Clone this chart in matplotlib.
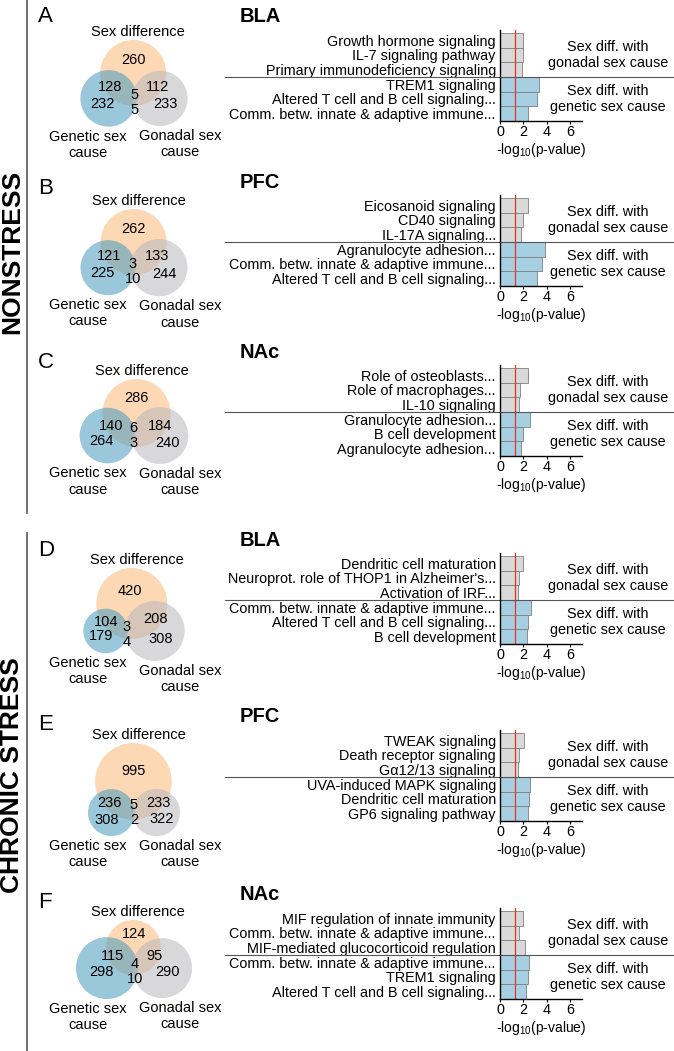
import numpy as np
import matplotlib
matplotlib.use('Agg')
import matplotlib.pyplot as plt
from matplotlib.patches import Circle
from matplotlib import transforms

plt.rcParams['font.family'] = ['Liberation Sans', 'DejaVu Sans']
plt.rcParams['mathtext.fontset'] = 'custom'
plt.rcParams['mathtext.rm'] = 'Liberation Sans'
plt.rcParams['mathtext.it'] = 'Liberation Sans:italic'

W, H = 674, 1051

# ---- data ----
panel_letters = ['A', 'B', 'C', 'D', 'E', 'F']
brain_regions = ['BLA', 'PFC', 'NAc', 'BLA', 'PFC', 'NAc']

# venn counts: sex-diff only, genetic only, gonadal only, sex&gen, sex&gon, gen&gon, all three
venn_sex_only = [260, 262, 286, 420, 995, 124]
venn_gen_only = [232, 225, 264, 179, 308, 298]
venn_gon_only = [233, 244, 240, 308, 322, 290]
venn_sex_gen = [128, 121, 140, 104, 236, 115]
venn_sex_gon = [112, 133, 184, 208, 233, 95]
venn_gen_gon = [5, 10, 3, 4, 2, 10]
venn_all = [5, 3, 6, 3, 5, 4]

gon_terms = [
    ['Growth hormone signaling', 'IL-7 signaling pathway', 'Primary immunodeficiency signaling'],
    ['Eicosanoid signaling', 'CD40 signaling', 'IL-17A signaling...'],
    ['Role of osteoblasts...', 'Role of macrophages...', 'IL-10 signaling'],
    ['Dendritic cell maturation', "Neuroprot. role of THOP1 in Alzheimer's...", 'Activation of IRF...'],
    ['TWEAK signaling', 'Death receptor signaling', 'G\u03b112/13 signaling'],
    ['MIF regulation of innate immunity', 'Comm. betw. innate & adaptive immune...',
     'MIF-mediated glucocorticoid regulation'],
]
gon_vals = [
    [2.0, 1.95, 1.9],
    [2.35, 2.0, 1.8],
    [2.35, 1.7, 1.65],
    [2.0, 1.65, 1.55],
    [2.05, 1.65, 1.57],
    [1.95, 1.65, 2.15],
]
gen_terms = [
    ['TREM1 signaling', 'Altered T cell and B cell signaling...', 'Comm. betw. innate & adaptive immune...'],
    ['Agranulocyte adhesion...', 'Comm. betw. innate & adaptive immune...', 'Altered T cell and B cell signaling...'],
    ['Granulocyte adhesion...', 'B cell development', 'Agranulocyte adhesion...'],
    ['Comm. betw. innate & adaptive immune...', 'Altered T cell and B cell signaling...', 'B cell development'],
    ['UVA-induced MAPK signaling', 'Dendritic cell maturation', 'GP6 signaling pathway'],
    ['Comm. betw. innate & adaptive immune...', 'TREM1 signaling', 'Altered T cell and B cell signaling...'],
]
gen_vals = [
    [3.3, 3.15, 2.35],
    [3.8, 3.55, 3.2],
    [2.6, 2.0, 1.75],
    [2.65, 2.4, 2.3],
    [2.55, 2.45, 2.35],
    [2.45, 2.35, 2.2],
]
p_cut = 1.3

# ---- layout (pixels) ----
letter_y = [16, 188, 363, 550, 725, 903]
venn_top = [40, 209, 379, 568, 743, 920]
bar_top = [30, 195, 365, 553, 730, 908]
bar_h = 91
bar_x0, bar_w = 500, 82
AREA_SCALE = 6600.0   # px^2 for the whole union

c_sex = (0.98, 0.72, 0.47)
c_gen = (0.28, 0.60, 0.74)
c_gon = (0.72, 0.72, 0.74)
bar_gray = '#d9d9d9'
bar_blue = '#a6cfe1'
FS = 10.4


def overlap_area(r1, r2, d):
    if d >= r1 + r2:
        return 0.0
    if d <= abs(r1 - r2):
        return np.pi * min(r1, r2) ** 2
    a1 = r1 ** 2 * np.arccos((d ** 2 + r1 ** 2 - r2 ** 2) / (2 * d * r1))
    a2 = r2 ** 2 * np.arccos((d ** 2 + r2 ** 2 - r1 ** 2) / (2 * d * r2))
    a3 = 0.5 * np.sqrt((-d + r1 + r2) * (d + r1 - r2) * (d - r1 + r2) * (d + r1 + r2))
    return a1 + a2 - a3


def solve_dist(r1, r2, area):
    lo, hi = abs(r1 - r2), r1 + r2
    for _ in range(80):
        mid = 0.5 * (lo + hi)
        if overlap_area(r1, r2, mid) > area:
            lo = mid
        else:
            hi = mid
    return 0.5 * (lo + hi)


def draw_venn(cv, i):
    so, go, no = venn_sex_only[i], venn_gen_only[i], venn_gon_only[i]
    sg, sn, gn, a = venn_sex_gen[i], venn_sex_gon[i], venn_gen_gon[i], venn_all[i]
    union = so + go + no + sg + sn + gn + a
    s = AREA_SCALE / union
    r_s = np.sqrt(s * (so + sg + sn + a) / np.pi)
    r_g = np.sqrt(s * (go + sg + gn + a) / np.pi)
    r_n = np.sqrt(s * (no + sn + gn + a) / np.pi)
    d_sg = solve_dist(r_s, r_g, s * (sg + a))
    d_sn = solve_dist(r_s, r_n, s * (sn + a))
    d_gn = solve_dist(r_g, r_n, s * (gn + a))
    # local coords, y downward
    pg = np.array([0.0, 0.0])
    pn = np.array([d_gn, 0.0])
    xs = (d_sg ** 2 - d_sn ** 2 + d_gn ** 2) / (2 * d_gn)
    ys = -np.sqrt(max(d_sg ** 2 - xs ** 2, 0))
    ps = np.array([xs, ys])
    cs = [ps, pg, pn]
    rs = [r_s, r_g, r_n]
    xmin = min(c[0] - r for c, r in zip(cs, rs))
    xmax = max(c[0] + r for c, r in zip(cs, rs))
    top = ps[1] - r_s
    shift = np.array([134 - 0.5 * (xmin + xmax), venn_top[i] - top])
    cs = [c + shift for c in cs]

    for c, r, col in zip(cs, rs, [c_sex, c_gen, c_gon]):
        cv.add_patch(Circle(c, r, facecolor=col, edgecolor='none', alpha=0.55))

    # region label positions = centroids of regions
    x0 = min(c[0] - r for c, r in zip(cs, rs))
    x1 = max(c[0] + r for c, r in zip(cs, rs))
    y0 = min(c[1] - r for c, r in zip(cs, rs))
    y1 = max(c[1] + r for c, r in zip(cs, rs))
    X, Y = np.meshgrid(np.arange(x0, x1, 0.25), np.arange(y0, y1, 0.25))
    code = np.zeros(X.shape, dtype=int)
    for k, (c, r) in enumerate(zip(cs, rs)):
        code += (((X - c[0]) ** 2 + (Y - c[1]) ** 2) <= r ** 2).astype(int) << k
    vals = {1: so, 2: go, 4: no, 3: sg, 5: sn, 6: gn, 7: a}
    pos = {}
    for key in vals:
        m = code == key
        if m.any():
            pos[key] = np.array([X[m].mean(), Y[m].mean()])
        else:
            pos[key] = 0.5 * (cs[1] + cs[2])
    # keep the two small central counts from colliding
    if abs(pos[7][1] - pos[6][1]) < 15:
        mx = 0.5 * (pos[7][0] + pos[6][0])
        my = 0.5 * (pos[7][1] + pos[6][1])
        pos[7] = np.array([mx, my - 7.5])
        pos[6] = np.array([mx, my + 7.5])
    # push the two lens counts sideways, away from the centre column
    for key in (3, 5):
        pos[key][0] += 0.5 * (pos[key][0] - pos[7][0])
    for key, v in vals.items():
        cv.text(pos[key][0], pos[key][1], str(v), ha='center', va='center', fontsize=10.5)

    cv.text(cs[0][0] + 5, cs[0][1] - rs[0] - 8, 'Sex difference', ha='center', va='center', fontsize=10.5)
    cv.text(88, cs[1][1] + rs[1] + 3, 'Genetic sex\ncause', ha='center', va='top', fontsize=10.5)
    cv.text(180, cs[2][1] + rs[2] + 3, 'Gonadal sex\ncause', ha='center', va='top', fontsize=10.5)


def draw_bars(fig, i):
    ax = fig.add_axes([bar_x0 / W, 1 - (bar_top[i] + bar_h) / H, bar_w / W, bar_h / H])
    ax.patch.set_alpha(0)
    terms = gon_terms[i] + gen_terms[i]
    vals = gon_vals[i] + gen_vals[i]
    cols = [bar_gray] * len(gon_vals[i]) + [bar_blue] * len(gen_vals[i])
    y = np.arange(len(terms))
    ax.barh(y, vals, height=1.0, color=cols, edgecolor='#808080', linewidth=0.6)
    ax.axvline(p_cut, color='#e0352b', lw=0.9)
    ax.set_xlim(0, 7)
    ax.set_ylim(len(terms) - 0.5, -0.7)
    ax.set_xticks([0, 2, 4, 6])
    ax.set_yticks(y)
    ax.set_yticklabels(terms, fontsize=FS)
    ax.tick_params(axis='y', length=0, pad=3)
    ax.tick_params(axis='x', length=2.5, width=0.8, pad=0.5, labelsize=FS)
    for sp in ['top', 'right']:
        ax.spines[sp].set_visible(False)
    for sp in ['left', 'bottom']:
        ax.spines[sp].set_linewidth(1.0)
    ax.set_xlabel('-log$_{10}$(p-value)', fontsize=10, labelpad=1)

    tr = transforms.blended_transform_factory(fig.transFigure, ax.transData)
    sep = len(gon_vals[i]) - 0.5
    ax.plot([225 / W, 1.0], [sep, sep], color='#555555', lw=0.8, transform=tr, clip_on=False)
    ax.text(608 / W, (len(gon_vals[i]) - 1) / 2, 'Sex diff. with\ngonadal sex cause',
            transform=tr, ha='center', va='center', fontsize=FS)
    ax.text(608 / W, len(gon_vals[i]) + (len(gen_vals[i]) - 1) / 2, 'Sex diff. with\ngenetic sex cause',
            transform=tr, ha='center', va='center', fontsize=FS)


fig = plt.figure(figsize=(W / 100, H / 100), dpi=100)
cv = fig.add_axes([0, 0, 1, 1])
cv.set_xlim(0, W)
cv.set_ylim(H, 0)
cv.axis('off')

cv.plot([27, 27], [0, 513], color='#555555', lw=1.2)
cv.plot([27, 27], [533, H], color='#555555', lw=1.2)
cv.text(12, 252, 'NONSTRESS', rotation=90, ha='center', va='center', fontsize=19, fontweight='bold')
cv.text(12, 775, 'CHRONIC STRESS', rotation=90, ha='center', va='center', fontsize=19, fontweight='bold')

for i in range(6):
    cv.text(38, letter_y[i], panel_letters[i], ha='left', va='center', fontsize=16)
    cv.text(240, bar_top[i] - 13, brain_regions[i], ha='left', va='center', fontsize=14.5, fontweight='bold')
    draw_venn(cv, i)
    draw_bars(fig, i)

fig.savefig('out.png', dpi=100)
